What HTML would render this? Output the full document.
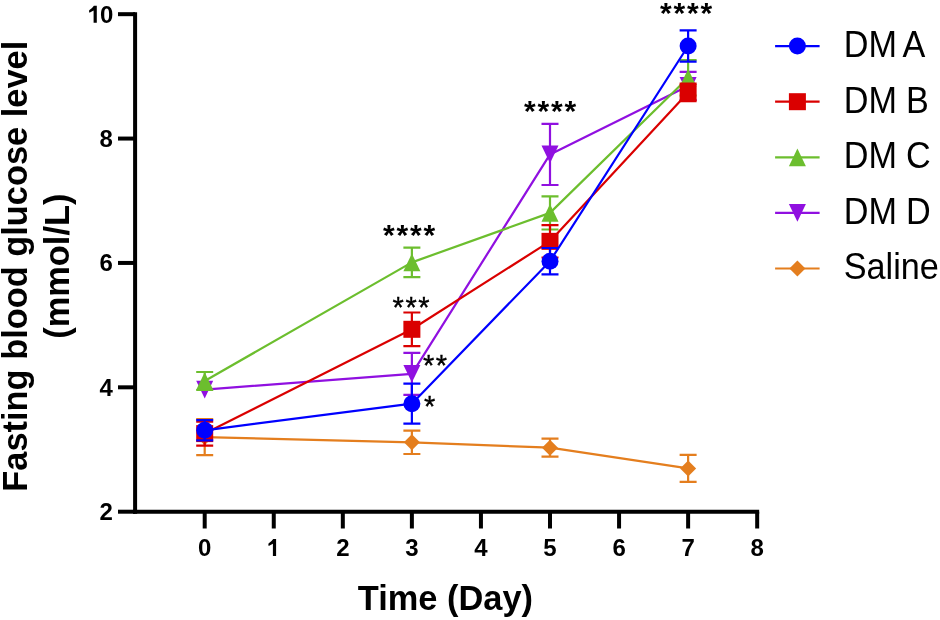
<!DOCTYPE html>
<html><head><meta charset="utf-8"><style>
html,body{margin:0;padding:0;background:#fff;}
body{width:940px;height:620px;overflow:hidden;font-family:"Liberation Sans", sans-serif;}
svg{display:block;will-change:transform;}
</style></head><body>
<svg width="940" height="620" viewBox="0 0 940 620">
<rect width="940" height="620" fill="#fff"/>
<g stroke="#000" stroke-width="4.0" fill="none" stroke-linecap="butt">
<line x1="135.1" y1="12.3" x2="135.1" y2="513.70"/>
<line x1="133.10" y1="511.7" x2="759.18" y2="511.7"/>
<line x1="118" y1="511.70" x2="135.1" y2="511.70"/>
<line x1="118" y1="387.32" x2="135.1" y2="387.32"/>
<line x1="118" y1="262.94" x2="135.1" y2="262.94"/>
<line x1="118" y1="138.56" x2="135.1" y2="138.56"/>
<line x1="118" y1="14.18" x2="135.1" y2="14.18"/>
<line x1="204.70" y1="511.7" x2="204.70" y2="528.5"/>
<line x1="273.76" y1="511.7" x2="273.76" y2="528.5"/>
<line x1="342.82" y1="511.7" x2="342.82" y2="528.5"/>
<line x1="411.88" y1="511.7" x2="411.88" y2="528.5"/>
<line x1="480.94" y1="511.7" x2="480.94" y2="528.5"/>
<line x1="550.00" y1="511.7" x2="550.00" y2="528.5"/>
<line x1="619.06" y1="511.7" x2="619.06" y2="528.5"/>
<line x1="688.12" y1="511.7" x2="688.12" y2="528.5"/>
<line x1="757.18" y1="511.7" x2="757.18" y2="528.5"/>
</g>
<g font-family="Liberation Sans, sans-serif" font-weight="bold" font-size="24" fill="#000">
<text x="112.8" y="520.20" text-anchor="end">2</text>
<text x="112.8" y="395.82" text-anchor="end">4</text>
<text x="112.8" y="271.44" text-anchor="end">6</text>
<text x="112.8" y="147.06" text-anchor="end">8</text>
<text x="113.4" y="22.7" text-anchor="end">0</text>
<path d="M93.90,5.80H96.80V22.70H93.60V10.50L89.90,12.50Q89.10,12.80 89.10,12.00V10.60Q89.10,10.00 89.80,9.70Q92.40,8.10 93.90,5.80Z" fill="#000"/>
<text x="204.70" y="555.9" text-anchor="middle">0</text>
<path d="M273.20,539.00H276.10V555.90H272.90V543.70L269.20,545.70Q268.40,546.00 268.40,545.20V543.80Q268.40,543.20 269.10,542.90Q271.70,541.30 273.20,539.00Z" fill="#000"/>
<text x="342.82" y="555.9" text-anchor="middle">2</text>
<text x="411.88" y="555.9" text-anchor="middle">3</text>
<text x="480.94" y="555.9" text-anchor="middle">4</text>
<text x="550.00" y="555.9" text-anchor="middle">5</text>
<text x="619.06" y="555.9" text-anchor="middle">6</text>
<text x="688.12" y="555.9" text-anchor="middle">7</text>
<text x="757.18" y="555.9" text-anchor="middle">8</text>
</g>
<text transform="translate(445.4,610) scale(1,1.045)" text-anchor="middle" font-family="Liberation Sans, sans-serif" font-weight="bold" font-size="34.4">Time (Day)</text>
<g transform="translate(27.1,266.2) rotate(-90)" font-family="Liberation Sans, sans-serif" font-weight="bold" font-size="34.4" text-anchor="middle"><text x="0" y="0">Fasting blood glucose level</text><text x="0" y="41.8">(mmol/L)</text></g>
<g>
<polyline points="204.70,437.15 411.88,442.35 550.00,447.70 688.12,468.40" fill="none" stroke="#E47E1E" stroke-width="2.2" stroke-linejoin="round"/>
<path d="M204.70,419.10V455.20M196.20,419.10H213.20M196.20,455.20H213.20" stroke="#E47E1E" stroke-width="2.2" fill="none"/>
<path d="M411.88,430.70V454.00M403.38,430.70H420.38M403.38,454.00H420.38" stroke="#E47E1E" stroke-width="2.2" fill="none"/>
<path d="M550.00,438.70V456.70M541.50,438.70H558.50M541.50,456.70H558.50" stroke="#E47E1E" stroke-width="2.2" fill="none"/>
<path d="M688.12,454.90V481.90M679.62,454.90H696.62M679.62,481.90H696.62" stroke="#E47E1E" stroke-width="2.2" fill="none"/>
<polygon points="204.70,429.15 212.70,437.15 204.70,445.15 196.70,437.15" fill="#E47E1E"/>
<polygon points="411.88,434.35 419.88,442.35 411.88,450.35 403.88,442.35" fill="#E47E1E"/>
<polygon points="550.00,439.70 558.00,447.70 550.00,455.70 542.00,447.70" fill="#E47E1E"/>
<polygon points="688.12,460.40 696.12,468.40 688.12,476.40 680.12,468.40" fill="#E47E1E"/>
</g>
<g>
<polyline points="204.70,389.60 411.88,373.80 550.00,154.40 688.12,85.90" fill="none" stroke="#9010E0" stroke-width="2.2" stroke-linejoin="round"/>
<path d="M411.88,352.80V394.80M403.38,352.80H420.38M403.38,394.80H420.38" stroke="#9010E0" stroke-width="2.2" fill="none"/>
<path d="M550.00,123.80V185.00M541.50,123.80H558.50M541.50,185.00H558.50" stroke="#9010E0" stroke-width="2.2" fill="none"/>
<path d="M688.12,71.80V100.00M679.62,71.80H696.62M679.62,100.00H696.62" stroke="#9010E0" stroke-width="2.2" fill="none"/>
<polygon points="196.20,380.80 213.20,380.80 204.70,398.40" fill="#9010E0"/>
<polygon points="403.38,365.00 420.38,365.00 411.88,382.60" fill="#9010E0"/>
<polygon points="541.50,145.60 558.50,145.60 550.00,163.20" fill="#9010E0"/>
<polygon points="679.62,77.10 696.62,77.10 688.12,94.70" fill="#9010E0"/>
</g>
<g>
<polyline points="204.70,381.00 411.88,262.35 550.00,212.90 688.12,77.75" fill="none" stroke="#6CBE2E" stroke-width="2.2" stroke-linejoin="round"/>
<path d="M204.70,372.00V390.00M196.20,372.00H213.20M196.20,390.00H213.20" stroke="#6CBE2E" stroke-width="2.2" fill="none"/>
<path d="M411.88,247.60V277.10M403.38,247.60H420.38M403.38,277.10H420.38" stroke="#6CBE2E" stroke-width="2.2" fill="none"/>
<path d="M550.00,196.30V229.50M541.50,196.30H558.50M541.50,229.50H558.50" stroke="#6CBE2E" stroke-width="2.2" fill="none"/>
<path d="M688.12,60.00V95.50M679.62,60.00H696.62M679.62,95.50H696.62" stroke="#6CBE2E" stroke-width="2.2" fill="none"/>
<polygon points="204.70,372.20 213.20,389.80 196.20,389.80" fill="#6CBE2E"/>
<polygon points="411.88,253.55 420.38,271.15 403.38,271.15" fill="#6CBE2E"/>
<polygon points="550.00,204.10 558.50,221.70 541.50,221.70" fill="#6CBE2E"/>
<polygon points="688.12,68.95 696.62,86.55 679.62,86.55" fill="#6CBE2E"/>
</g>
<g>
<polyline points="204.70,433.60 411.88,329.30 550.00,241.35 688.12,92.40" fill="none" stroke="#DA0000" stroke-width="2.2" stroke-linejoin="round"/>
<path d="M204.70,421.60V445.60M196.20,421.60H213.20M196.20,445.60H213.20" stroke="#DA0000" stroke-width="2.2" fill="none"/>
<path d="M411.88,312.50V346.10M403.38,312.50H420.38M403.38,346.10H420.38" stroke="#DA0000" stroke-width="2.2" fill="none"/>
<path d="M550.00,225.20V257.50M541.50,225.20H558.50M541.50,257.50H558.50" stroke="#DA0000" stroke-width="2.2" fill="none"/>
<path d="M688.12,83.55V101.25M679.62,83.55H696.62M679.62,101.25H696.62" stroke="#DA0000" stroke-width="2.2" fill="none"/>
<rect x="196.20" y="425.10" width="17.00" height="17.00" fill="#DA0000"/>
<rect x="403.38" y="320.80" width="17.00" height="17.00" fill="#DA0000"/>
<rect x="541.50" y="232.85" width="17.00" height="17.00" fill="#DA0000"/>
<rect x="679.62" y="83.90" width="17.00" height="17.00" fill="#DA0000"/>
</g>
<g>
<polyline points="204.70,430.30 411.88,403.65 550.00,261.20 688.12,46.00" fill="none" stroke="#0000FF" stroke-width="2.2" stroke-linejoin="round"/>
<path d="M204.70,420.20V440.40M196.20,420.20H213.20M196.20,440.40H213.20" stroke="#0000FF" stroke-width="2.2" fill="none"/>
<path d="M411.88,383.65V423.65M403.38,383.65H420.38M403.38,423.65H420.38" stroke="#0000FF" stroke-width="2.2" fill="none"/>
<path d="M550.00,248.00V274.40M541.50,248.00H558.50M541.50,274.40H558.50" stroke="#0000FF" stroke-width="2.2" fill="none"/>
<path d="M688.12,30.30V61.70M679.62,30.30H696.62M679.62,61.70H696.62" stroke="#0000FF" stroke-width="2.2" fill="none"/>
<circle cx="204.70" cy="430.30" r="8.50" fill="#0000FF"/>
<circle cx="411.88" cy="403.65" r="8.50" fill="#0000FF"/>
<circle cx="550.00" cy="261.20" r="8.50" fill="#0000FF"/>
<circle cx="688.12" cy="46.00" r="8.50" fill="#0000FF"/>
</g>
<g font-family="Liberation Sans, sans-serif" fill="#000">
<text x="383.0" y="244.5" font-weight="bold" font-size="30" letter-spacing="1.8">****</text>
<text x="524.0" y="120.8" font-weight="bold" font-size="30" letter-spacing="1.8">****</text>
<text x="660.1" y="22.8" font-weight="bold" font-size="30" letter-spacing="1.8">****</text>
<text x="392.5" y="316.65" font-size="29" letter-spacing="1.6" stroke="#000" stroke-width="0.35">***</text>
<text x="422.9" y="375.05" font-size="29" letter-spacing="1.6" stroke="#000" stroke-width="0.35">**</text>
<text x="423.9" y="415.85" font-size="29" letter-spacing="1.6" stroke="#000" stroke-width="0.35">*</text>
</g>
<line x1="775.1" y1="46.1" x2="819.6" y2="46.1" stroke="#0000FF" stroke-width="2.2"/>
<circle cx="797.40" cy="46.10" r="8.50" fill="#0000FF"/>
<text transform="translate(843.8,56.90) scale(1,1.06)" font-family="Liberation Sans, sans-serif" font-size="34.2" word-spacing="-0.4" fill="#000">DM <tspan dx="-3.7">A</tspan></text>
<line x1="775.1" y1="101.7" x2="819.6" y2="101.7" stroke="#DA0000" stroke-width="2.2"/>
<rect x="788.90" y="93.20" width="17.00" height="17.00" fill="#DA0000"/>
<text transform="translate(843.8,112.50) scale(1,1.06)" font-family="Liberation Sans, sans-serif" font-size="34.2" word-spacing="-0.4" fill="#000">DM B</text>
<line x1="775.1" y1="157.4" x2="819.6" y2="157.4" stroke="#6CBE2E" stroke-width="2.2"/>
<polygon points="797.40,148.60 805.90,166.20 788.90,166.20" fill="#6CBE2E"/>
<text transform="translate(843.8,168.20) scale(1,1.06)" font-family="Liberation Sans, sans-serif" font-size="34.2" word-spacing="-0.4" fill="#000">DM C</text>
<line x1="775.1" y1="212.9" x2="819.6" y2="212.9" stroke="#9010E0" stroke-width="2.2"/>
<polygon points="788.90,204.10 805.90,204.10 797.40,221.70" fill="#9010E0"/>
<text transform="translate(843.8,223.70) scale(1,1.06)" font-family="Liberation Sans, sans-serif" font-size="34.2" word-spacing="-0.4" fill="#000">DM D</text>
<line x1="775.1" y1="268.5" x2="819.6" y2="268.5" stroke="#E47E1E" stroke-width="2.2"/>
<polygon points="797.40,260.50 805.40,268.50 797.40,276.50 789.40,268.50" fill="#E47E1E"/>
<text transform="translate(843.8,279.30) scale(1,1.06)" font-family="Liberation Sans, sans-serif" font-size="34.2" word-spacing="-0.4" fill="#000">Saline</text>
</svg>
</body></html>
